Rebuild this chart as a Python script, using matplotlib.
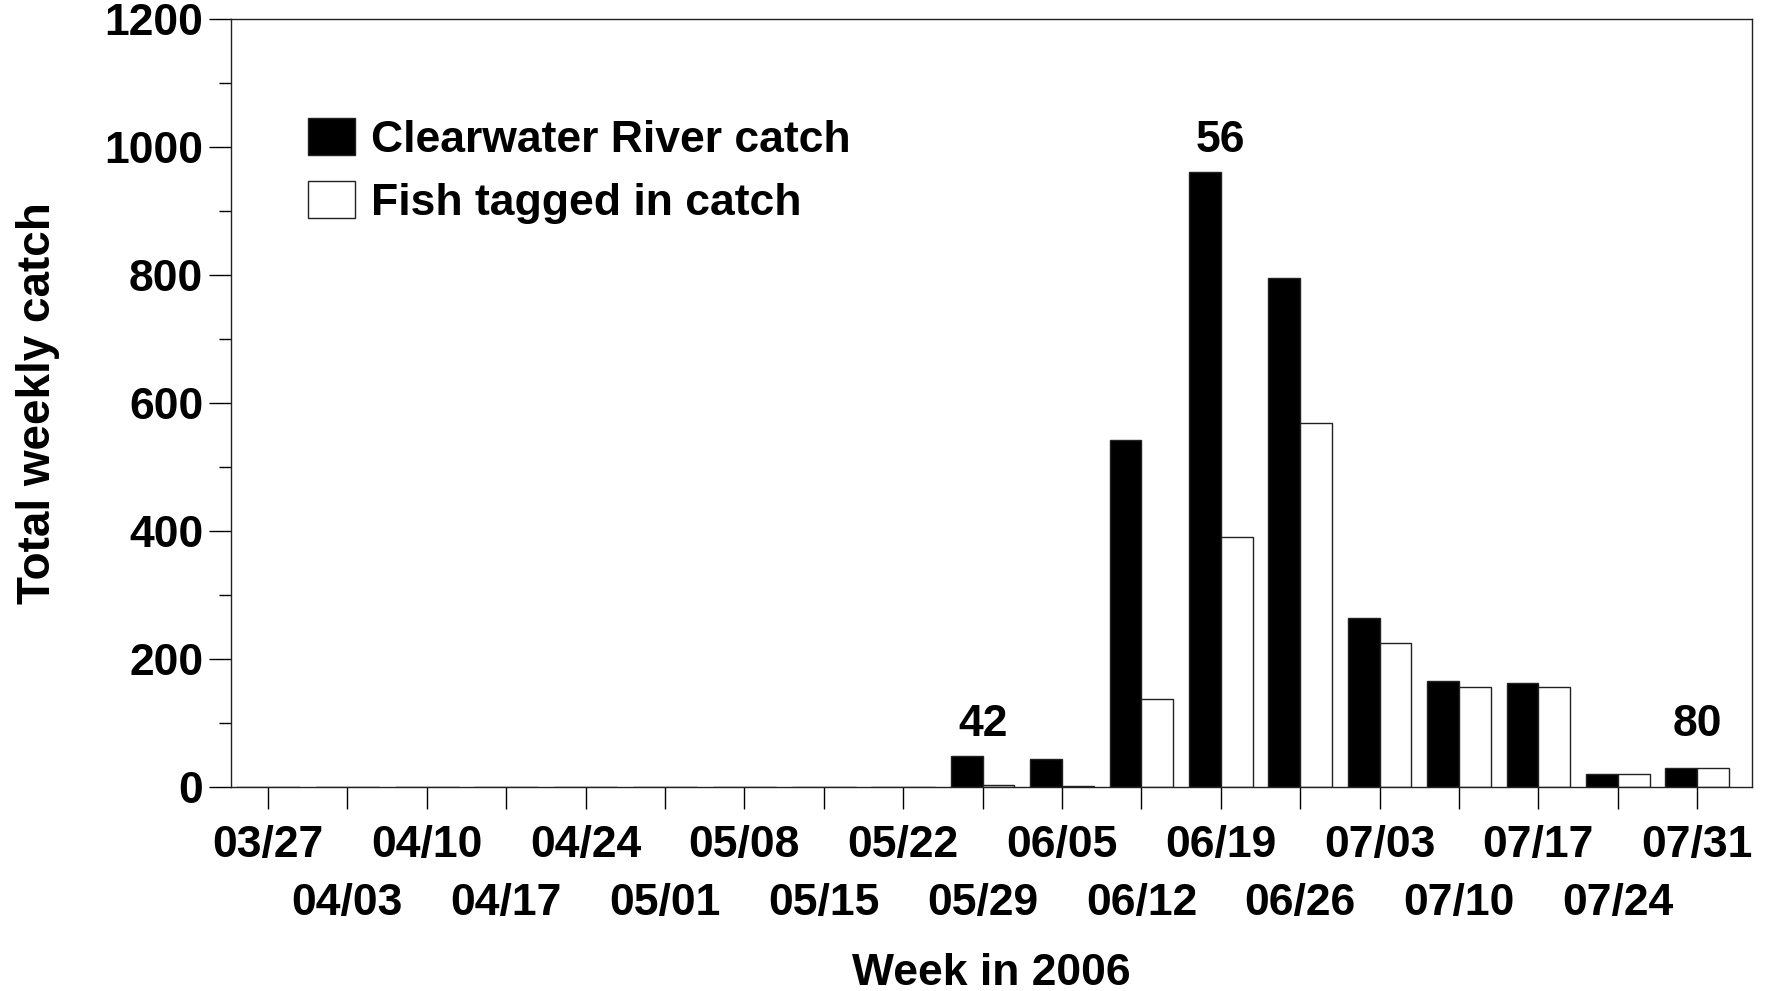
import numpy as np
import matplotlib
matplotlib.use("Agg")
import matplotlib.pyplot as plt
from matplotlib.ticker import MultipleLocator

# weekly catch, Clearwater River, 2006
weeks = ["03/27", "04/03", "04/10", "04/17", "04/24", "05/01", "05/08",
         "05/15", "05/22", "05/29", "06/05", "06/12", "06/19", "06/26",
         "07/03", "07/10", "07/17", "07/24", "07/31"]
catch = [0, 0, 0, 0, 0, 0, 0, 0, 0, 49, 43, 542, 962, 796,
         264, 166, 162, 21, 29]
tagged = [0, 0, 0, 0, 0, 0, 0, 0, 0, 3, 2, 137, 391, 569,
          225, 156, 156, 21, 29]

# numbers written above some weeks
note_weeks = ["05/29", "06/19", "07/31"]
note_text = ["42", "56", "80"]
note_y = [80, 992, 80]

plt.rcParams['font.family'] = ['Liberation Sans', 'DejaVu Sans']
plt.rcParams['font.weight'] = 'bold'
plt.rcParams['font.size'] = 32

fig = plt.figure(figsize=(17.67, 9.91), dpi=100)
ax = fig.add_axes([0.1307, 0.2059, 0.9915 - 0.1307, 0.9805 - 0.2059])

x = np.arange(len(weeks))
w = 0.4
ax.bar(x - w / 2, catch, w, color='black', edgecolor='#222222', linewidth=1,
       label='Clearwater River catch')
ax.bar(x + w / 2, tagged, w, color='white', edgecolor='#222222', linewidth=1,
       label='Fish tagged in catch')

for wk, s, yv in zip(note_weeks, note_text, note_y):
    ax.text(weeks.index(wk), yv, s, ha='center', va='baseline',
            fontsize=32, fontweight='bold')

ax.set_xlim(-0.466, 18.69)
ax.set_ylim(0, 1200)

# y axis
ax.yaxis.set_major_locator(MultipleLocator(200))
ax.yaxis.set_minor_locator(MultipleLocator(100))
ax.tick_params(axis='y', which='major', length=16, width=1, pad=4)
ax.tick_params(axis='y', which='minor', length=8.6, width=1)

# x axis: labels in two rows
ax.set_xticks(x)
ax.set_xticklabels(weeks)
ax.tick_params(axis='x', which='major', length=16, width=1, pad=11.5)
for i, tick in enumerate(ax.xaxis.get_major_ticks()):
    if i % 2 == 1:
        tick.set_pad(53)

for sp in ax.spines.values():
    sp.set_linewidth(1)
    sp.set_color('#222222')

ax.set_xlabel("Week in 2006", fontsize=32, fontweight='bold', labelpad=21)
ax.set_ylabel("Total weekly catch", fontsize=33, fontweight='bold', labelpad=32)

ax.legend(loc='upper left', bbox_to_anchor=(0.0506, 0.872), frameon=False,
          fontsize=32, handlelength=1.06, handleheight=0.92,
          labelspacing=0.45, handletextpad=0.36, borderpad=0, borderaxespad=0)

fig.savefig("out.png", dpi=100)
plt.close(fig)
